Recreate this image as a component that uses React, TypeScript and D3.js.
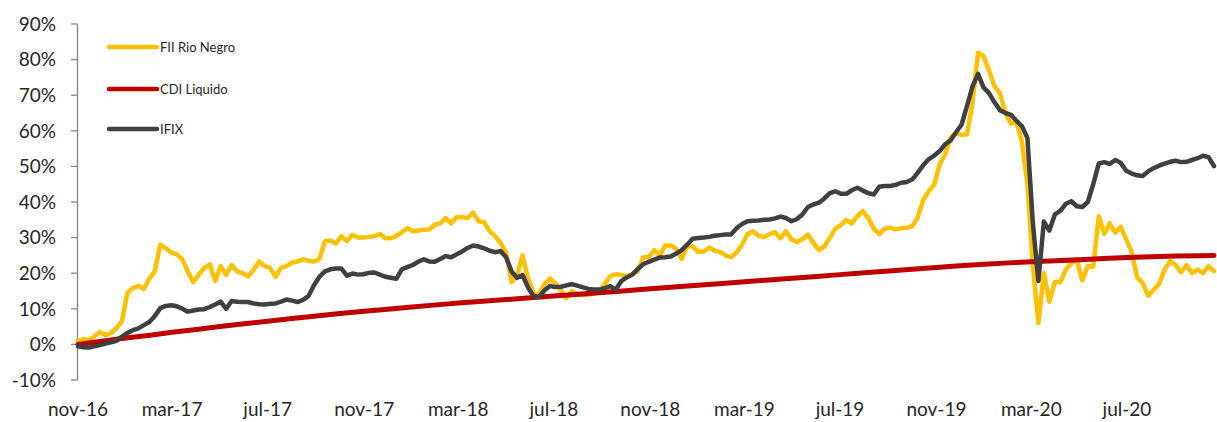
import React, { useRef, useEffect } from 'react';
import * as d3 from 'd3';

const WIDTH = 1217;
const HEIGHT = 422;

// first observation; FII and IFIX are weekly closes from here, CDI monthly
const startDate = new Date(2016, 10, 1);

const fiiRioNegro: number[] = [
    1.0, 1.5, 1.2, 2.3, 3.5, 2.6, 3.2, 4.6, 6.5, 14.5,
    15.8, 16.4, 15.6, 18.5, 20.5, 28.0, 27.0, 25.8, 25.3, 23.9,
    20.5, 17.5, 19.5, 21.5, 22.5, 17.8, 22.0, 19.5, 22.3, 20.5,
    20.0, 19.1, 21.0, 23.3, 22.0, 21.5, 19.0, 21.5, 22.0, 23.0,
    23.3, 23.9, 23.5, 23.3, 24.0, 29.0, 29.2, 28.3, 30.4, 29.0,
    30.8, 30.0, 30.0, 30.2, 30.4, 31.0, 29.8, 29.8, 30.4, 31.5,
    32.6, 31.8, 32.0, 32.2, 32.3, 33.6, 34.0, 35.5, 34.0, 35.8,
    35.7, 35.5, 37.0, 34.6, 34.3, 31.8, 30.4, 28.5, 25.8, 17.5,
    19.2, 25.0, 18.5, 14.5, 14.0, 17.0, 18.5, 17.2, 15.2, 13.0,
    15.0, 14.0, 13.8, 14.0, 14.2, 15.0, 17.0, 19.2, 19.7, 19.5,
    19.2, 19.8, 20.5, 24.5, 24.5, 26.5, 25.0, 27.8, 27.8, 26.8,
    24.0, 27.6, 27.6, 26.0, 26.0, 27.2, 26.3, 26.0, 25.0, 24.5,
    25.8, 28.0, 31.0, 31.8, 30.5, 30.2, 31.0, 31.5, 29.8, 31.8,
    29.5, 28.8, 29.5, 30.9, 28.5, 26.5, 27.5, 30.0, 32.5, 33.5,
    35.0, 34.0, 36.0, 37.4, 35.5, 32.5, 31.0, 32.5, 32.8, 32.3,
    32.6, 32.8, 33.2, 35.6, 40.5, 43.0, 44.8, 50.5, 53.4, 58.0,
    59.5, 58.8, 59.0, 68.0, 81.9, 81.0, 77.0, 72.5, 70.5, 65.0,
    62.0, 62.5, 57.0, 45.0, 22.0, 6.0, 20.0, 12.0, 17.5, 17.5,
    21.0, 22.8, 23.9, 18.0, 22.0, 21.8, 36.0, 31.0, 34.0, 31.4,
    33.0, 29.5, 26.0, 18.8, 17.3, 13.6, 15.4, 17.0, 21.0, 23.4,
    22.3, 20.3, 22.3, 20.0, 21.0, 20.0, 22.0, 20.6
];

const ifix: number[] = [
    -0.5, -0.8, -0.9, -0.5, -0.2, 0.2, 0.6, 1.0, 2.2, 3.2,
    4.0, 4.5, 5.4, 6.3, 8.0, 10.2, 10.8, 11.0, 10.7, 10.0,
    9.2, 9.5, 9.8, 9.9, 10.5, 11.2, 12.0, 10.0, 12.2, 12.0,
    11.9, 11.9, 11.5, 11.3, 11.2, 11.4, 11.5, 12.0, 12.6, 12.3,
    11.9, 12.5, 13.6, 16.6, 19.0, 20.5, 21.1, 21.3, 21.3, 19.3,
    19.9, 19.6, 19.7, 20.1, 20.2, 19.6, 19.0, 18.7, 18.4, 21.1,
    21.7, 22.3, 23.2, 23.9, 23.3, 23.2, 24.0, 24.8, 24.5, 25.3,
    26.1, 27.1, 27.8, 27.5, 27.0, 26.3, 25.9, 26.2, 24.5, 20.5,
    18.7, 19.5, 16.0, 13.6, 13.3, 15.2, 16.4, 16.1, 16.2, 16.6,
    16.9, 16.5, 16.0, 15.6, 15.4, 15.4, 15.8, 16.4, 15.4, 17.8,
    18.8, 19.6, 21.2, 22.5, 23.2, 23.8, 24.4, 24.5, 24.7, 25.5,
    26.5, 28.0, 29.7, 29.9, 30.0, 30.2, 30.5, 30.7, 30.9, 30.9,
    32.6, 33.8, 34.6, 34.7, 34.8, 35.0, 35.1, 35.4, 35.9, 35.5,
    34.6, 35.2, 36.5, 38.6, 39.3, 39.8, 41.0, 42.5, 43.0, 42.3,
    42.3, 43.3, 44.0, 43.2, 42.5, 42.1, 44.3, 44.5, 44.5, 44.8,
    45.4, 45.6, 46.3, 48.2, 50.3, 52.0, 53.0, 54.3, 56.2, 57.3,
    59.6, 61.7, 67.0, 72.5, 76.0, 72.2, 70.6, 68.0, 65.8, 65.0,
    64.5, 62.8, 61.3, 58.0, 34.0, 17.8, 34.5, 32.0, 36.5, 37.5,
    39.5, 40.2, 38.8, 38.6, 40.0, 45.0, 50.8, 51.2, 50.7, 51.8,
    51.0, 48.8, 48.0, 47.5, 47.3, 48.6, 49.5, 50.2, 50.8, 51.3,
    51.6, 51.2, 51.3, 51.8, 52.3, 53.0, 52.6, 50.1
];

// monthly, last value is the final weekly date
const cdiLiquido: number[] = [
    0, 0.9, 1.8, 2.6, 3.4, 4.2, 5.0, 5.8, 6.5, 7.3,
    8.0, 8.7, 9.3, 9.9, 10.5, 11.1, 11.6, 12.1, 12.6, 13.1,
    13.6, 14.1, 14.6, 15.1, 15.6, 16.1, 16.6, 17.1, 17.6, 18.1,
    18.6, 19.1, 19.6, 20.1, 20.6, 21.1, 21.6, 22.1, 22.5, 22.9,
    23.2, 23.5, 23.8, 24.1, 24.4, 24.6, 24.8, 24.9, 25.0
];

const yTicks: number[] = [-10, 0, 10, 20, 30, 40, 50, 60, 70, 80, 90];
const xTickLabels: string[] = [
    'nov-16', 'mar-17', 'jul-17', 'nov-17', 'mar-18', 'jul-18',
    'nov-18', 'mar-19', 'jul-19', 'nov-19', 'mar-20', 'jul-20'
];

const seriesNames: string[] = ['FII Rio Negro', 'CDI Liquido', 'IFIX'];
const seriesColors: string[] = ['#FFC000', '#C00000', '#404040'];
const seriesWidths: number[] = [4.5, 5, 4.5];

interface IPoint {
    date: Date;
    value: number;
}

function App() {
    const d3Container = useRef<SVGSVGElement>(null);

    useEffect(() => {
        if (!d3Container.current) return;

        const weekDates: Date[] = fiiRioNegro.map((_, i) => d3.timeDay.offset(startDate, i * 7));
        const lastDate: Date = weekDates[weekDates.length - 1];
        const cdiDates: Date[] = cdiLiquido.map((_, i) =>
            i < cdiLiquido.length - 1 ? d3.timeMonth.offset(startDate, i) : lastDate);
        const tickDates: Date[] = xTickLabels.map((_, i) => d3.timeMonth.offset(startDate, i * 4));

        const x = d3.scaleTime()
            .domain([startDate, d3.timeMonth.offset(startDate, 48)])
            .range([78, 1223.4]);
        const y = d3.scaleLinear().domain([-10, 90]).range([380, 24]);

        const svg = d3.select(d3Container.current);
        svg.selectAll('*').remove();

        // y axis
        const axis = svg.append('g').attr('stroke', '#868686').attr('stroke-width', 1.3);
        axis.append('line')
            .attr('x1', 77.5).attr('x2', 77.5)
            .attr('y1', y(90)).attr('y2', y(-10));
        axis.selectAll('line.tick')
            .data(yTicks)
            .join('line')
                .attr('class', 'tick')
                .attr('x1', 71).attr('x2', 77.5)
                .attr('y1', d => y(d)).attr('y2', d => y(d));

        svg.append('g')
                .attr('font-family', 'Lato, sans-serif')
                .attr('font-size', 19)
                .attr('fill', '#262626')
                .attr('text-anchor', 'end')
            .selectAll('text')
            .data(yTicks)
            .join('text')
                .attr('x', 56)
                .attr('y', d => y(d))
                .attr('dy', '0.36em')
                .text(d => `${d}%`);

        svg.append('g')
                .attr('font-family', 'Lato, sans-serif')
                .attr('font-size', 19)
                .attr('fill', '#262626')
                .attr('text-anchor', 'middle')
            .selectAll('text')
            .data(xTickLabels)
            .join('text')
                .attr('x', (_, i) => x(tickDates[i]))
                .attr('y', 416)
                .text(d => d);

        const line = d3.line<IPoint>()
            .x(d => x(d.date))
            .y(d => y(d.value));

        const series: IPoint[][] = [
            fiiRioNegro.map((v, i) => ({ date: weekDates[i], value: v })),
            cdiLiquido.map((v, i) => ({ date: cdiDates[i], value: v })),
            ifix.map((v, i) => ({ date: weekDates[i], value: v }))
        ];

        svg.append('g')
            .selectAll('path')
            .data(series)
            .join('path')
                .attr('fill', 'none')
                .attr('stroke', (_, i) => seriesColors[i])
                .attr('stroke-width', (_, i) => seriesWidths[i])
                .attr('stroke-linejoin', 'round')
                .attr('stroke-linecap', 'round')
                .attr('d', d => line(d));

        // legend
        const legendY: number[] = [47, 89, 129];
        const legend = svg.append('g')
            .selectAll('g')
            .data(seriesNames)
            .join('g')
                .attr('transform', (_, i) => `translate(109, ${legendY[i]})`);
        legend.append('line')
            .attr('x1', 0).attr('x2', 48)
            .attr('stroke', (_, i) => seriesColors[i])
            .attr('stroke-width', 4.5)
            .attr('stroke-linecap', 'round');
        legend.append('text')
            .attr('x', 51)
            .attr('dy', '0.35em')
            .attr('font-family', 'Lato, sans-serif')
            .attr('font-size', 13)
            .attr('fill', '#262626')
            .text(d => d);
    }, []);

    return (
        <svg
            width={WIDTH}
            height={HEIGHT}
            ref={d3Container}
            style={{ position: 'absolute', left: 0, top: 0, background: '#fff' }}
        />
    );
}

export default App;
